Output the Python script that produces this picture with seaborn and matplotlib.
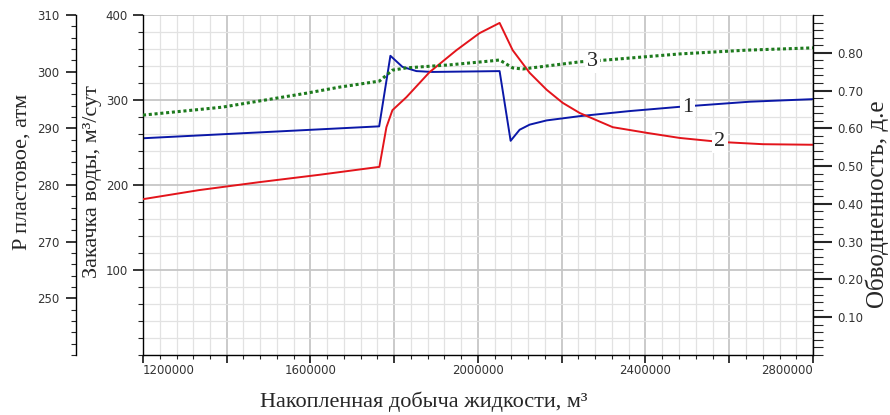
import matplotlib
matplotlib.use("Agg")
import matplotlib.pyplot as plt
import seaborn as sns
from matplotlib.ticker import MultipleLocator, FixedLocator, FixedFormatter

# ---------------- data ----------------
# curve 1 (blue) - water injection, m3/day (inner left axis)
x_inj = [1200000, 1764000, 1790800, 1819500, 1853000, 1891300, 2051600, 2077900,
         2099400, 2123300, 2164000, 2243000, 2362500, 2482000, 2649600, 2800000]
injection = [255, 269, 352, 339, 334, 333, 334, 252,
             265, 271, 276, 281, 287, 292, 298, 301]

# curve 2 (red) - reservoir pressure, atm (outer left axis)
x_pres = [1200000, 1334000, 1477500, 1621000, 1764500, 1781300, 1795600, 1829100,
          1884100, 1948700, 2003700, 2051600, 2082700, 2123300, 2164000, 2202200,
          2243000, 2321900, 2403200, 2482000, 2577800, 2680600, 2800000]
pressure = [277.5, 279.1, 280.5, 281.8, 283.2, 290.2, 293.2, 295.5,
            299.9, 303.8, 306.8, 308.6, 303.8, 299.8, 296.8, 294.5,
            292.7, 290.2, 289.2, 288.3, 287.6, 287.2, 287.1]

# curve 3 (green dotted) - water cut, fraction (right axis)
x_wc = [1200000, 1389000, 1590000, 1668800, 1764500, 1795600, 1829100, 1932000,
        2027600, 2051600, 2082700, 2106600, 2243000, 2307500, 2482000, 2642400, 2800000]
water_cut = [0.635, 0.656, 0.693, 0.709, 0.725, 0.754, 0.760, 0.768,
             0.778, 0.781, 0.760, 0.757, 0.776, 0.781, 0.797, 0.807, 0.813]

x_ticks = [1200000, 1400000, 1600000, 1800000, 2000000, 2200000, 2400000, 2600000, 2800000]
x_tick_labels = ['1200000', '', '1600000', '', '2000000', '', '2400000', '', '2800000']
inj_ticks = [100, 200, 300, 400]
inj_tick_labels = ['100', '200', '300', '400']
p_ticks = [260, 270, 280, 290, 300, 310]
p_tick_labels = ['250', '270', '280', '290', '300', '310']
wc_ticks = [0.1, 0.2, 0.3, 0.4, 0.5, 0.6, 0.7, 0.8]
wc_tick_labels = ['0.10', '0.20', '0.30', '0.40', '0.50', '0.60', '0.70', '0.80']

x_label = 'Накопленная добыча жидкости, м³'
inj_label = 'Закачка воды, м³/сут'
p_label = 'P пластовое, атм'
wc_label = 'Обводненность, д.е'

# ---------------- styling ----------------
sns.set_style('white')
plt.rcParams['font.family'] = ['DejaVu Sans']
SERIF = ['Liberation Serif', 'DejaVu Serif']
TICK_COLOR = '#333333'
TS = 8.5

fig = plt.figure(figsize=(8.9, 4.15), dpi=100)
ax = fig.add_axes([143 / 890, 1 - 355 / 415, 670 / 890, 340 / 415])
ax_p = ax.twinx()
ax_w = ax.twinx()

# lines
sns.lineplot(x=x_inj, y=injection, ax=ax, color='#0b18a8', linewidth=1.4)
sns.lineplot(x=x_pres, y=pressure, ax=ax_p, color='#e3141b', linewidth=1.4)
sns.lineplot(x=x_wc, y=water_cut, ax=ax_w, color='#1d7a1d', linewidth=2.2,
             linestyle=(0, (1, 0.9)))

# limits
ax.set_xlim(1200000, 2800000)
ax.set_ylim(0, 400)
ax_p.set_ylim(250, 310)
ax_w.set_ylim(0, 0.9)

# grid on main axes
ax.set_axisbelow(True)
ax.xaxis.set_major_locator(FixedLocator(x_ticks))
ax.xaxis.set_major_formatter(FixedFormatter(x_tick_labels))
ax.xaxis.set_minor_locator(MultipleLocator(40000))
ax.yaxis.set_major_locator(FixedLocator(inj_ticks))
ax.yaxis.set_major_formatter(FixedFormatter(inj_tick_labels))
ax.yaxis.set_minor_locator(MultipleLocator(20))
ax.grid(which='minor', color='#e2e2e2', linewidth=0.9)
ax.grid(which='major', color='#c6c6c6', linewidth=1.3)

ax_p.yaxis.set_major_locator(FixedLocator(p_ticks))
ax_p.yaxis.set_major_formatter(FixedFormatter(p_tick_labels))
ax_p.yaxis.set_minor_locator(MultipleLocator(2))

ax_w.yaxis.set_major_locator(FixedLocator(wc_ticks))
ax_w.yaxis.set_major_formatter(FixedFormatter(wc_tick_labels))
ax_w.yaxis.set_minor_locator(MultipleLocator(0.02))

# spines
for s in ['top', 'right']:
    ax.spines[s].set_visible(False)
for s in ['left', 'bottom']:
    ax.spines[s].set_color('black')
    ax.spines[s].set_linewidth(1.0)

for s in ['top', 'bottom', 'right']:
    ax_p.spines[s].set_visible(False)
ax_p.spines['left'].set_visible(True)
ax_p.spines['left'].set_position(('axes', -0.1))
ax_p.spines['left'].set_color('black')
ax_p.spines['left'].set_linewidth(1.0)
ax_p.yaxis.tick_left()
ax_p.yaxis.set_label_position('left')

for s in ['top', 'bottom', 'left']:
    ax_w.spines[s].set_visible(False)
ax_w.spines['right'].set_color('black')
ax_w.spines['right'].set_linewidth(1.0)

# ticks (lengths in points)
ax.tick_params(axis='x', which='major', direction='out', length=5.8, width=1.3,
               labelsize=TS, labelcolor=TICK_COLOR, pad=0.8, bottom=True)
ax.tick_params(axis='x', which='minor', direction='out', length=2.9, width=0.8, bottom=True)
ax.tick_params(axis='y', which='major', direction='out', length=7.2, width=1.3,
               labelsize=TS, labelcolor=TICK_COLOR, pad=3.6, left=True)
ax.tick_params(axis='y', which='minor', direction='out', length=3.6, width=0.8, left=True)
ax_p.tick_params(axis='y', which='major', direction='out', length=7.2, width=1.3,
                 labelsize=TS, labelcolor=TICK_COLOR, pad=5, left=True, right=False)
ax_p.tick_params(axis='y', which='minor', direction='out', length=3.6, width=0.8,
                 left=True, right=False)
ax_w.tick_params(axis='y', which='major', direction='out', length=13.7, width=1.5,
                 labelsize=TS, labelcolor=TICK_COLOR, pad=3.6, right=True)
ax_w.tick_params(axis='y', which='minor', direction='out', length=7.2, width=0.8, right=True)

xl = ax.get_xticklabels()
xl[0].set_ha('left')
xl[-1].set_ha('right')

# axis labels
ax.set_xlabel(x_label, fontsize=16, family=SERIF)
ax.xaxis.set_label_coords(0.419, -0.138)
ax.xaxis.label.set_va('center')

ax.set_ylabel(inj_label, fontsize=16, family=SERIF)
ax.yaxis.set_label_coords(-0.076, 0.509)
ax.yaxis.label.set_va('center')

ax_p.set_ylabel(p_label, fontsize=16, family=SERIF)
ax_p.yaxis.set_label_coords(-0.181, 0.538)
ax_p.yaxis.label.set_va('center')

ax_w.set_ylabel(wc_label, fontsize=18, family=SERIF, rotation=90)
ax_w.yaxis.set_label_coords(1.096, 0.444)
ax_w.yaxis.label.set_va('center')

# curve numbers
box = dict(facecolor='white', edgecolor='none', pad=1.5)
ax_w.text(2274000, 0.776, '3', fontsize=16, family=SERIF, ha='center', va='center', bbox=box)
ax.text(2501000, 290.6, '1', fontsize=16, family=SERIF, ha='center', va='center', bbox=box)
ax_p.text(2577800, 287.6, '2', fontsize=16, family=SERIF, ha='center', va='center', bbox=box)

fig.savefig('out.png', dpi=100)
